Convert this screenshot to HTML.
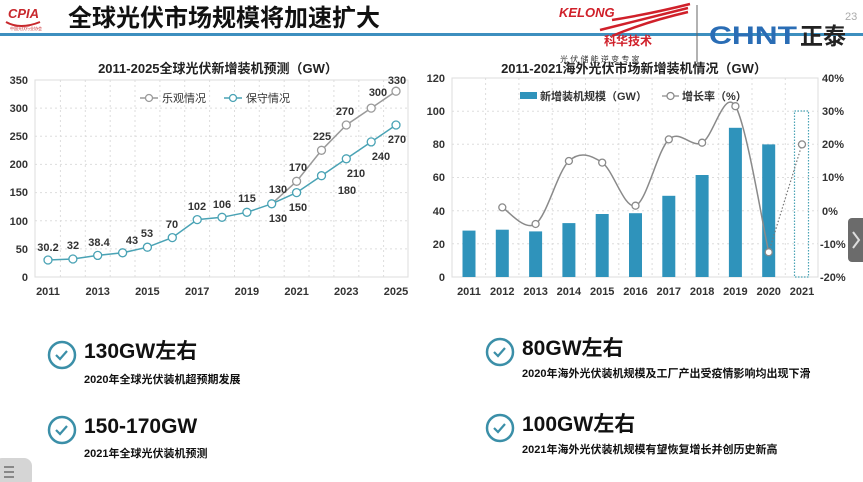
<!DOCTYPE html>
<html><head><meta charset="utf-8"><style>
html,body{margin:0;padding:0;background:#fff;}
svg{display:block;font-family:"Liberation Sans","Noto Sans CJK SC",sans-serif;}
</style></head><body>
<svg width="863" height="482" viewBox="0 0 863 482" xmlns="http://www.w3.org/2000/svg">
<!-- header -->
<rect x="0" y="33" width="863" height="3" fill="#3d8fbf"/>
<text x="8" y="18" font-size="13" font-weight="bold" fill="#c8282d" font-style="italic">CPIA</text>
<path d="M6 22 Q20 30 40 22" stroke="#c8282d" stroke-width="2" fill="none"/>
<text x="10" y="30" font-size="4" fill="#c8282d">中国光伏行业协会</text>
<text x="68" y="26" font-size="24" font-weight="bold" fill="#111">全球光伏市场规模将加速扩大</text>
<text x="559" y="17" font-size="13" font-weight="bold" font-style="italic" fill="#d0202a">KELONG</text>
<path d="M612 20 Q650 14 690 4 M600 30 Q640 20 688 8 M612 36 Q645 22 688 12" stroke="#d0202a" stroke-width="2.5" fill="none"/>
<text x="604" y="45" font-size="12" font-weight="bold" fill="#d0202a">科华技术</text>
<text x="560" y="62" font-size="8" fill="#333">光 伏 储 能 逆 变 专 家</text>
<line x1="697" y1="5" x2="697" y2="62" stroke="#666" stroke-width="1"/>
<text x="709" y="44" font-size="25" font-weight="bold" fill="#2a6db5" textLength="88" lengthAdjust="spacingAndGlyphs">CHNT</text>
<text x="800" y="44" font-size="23" font-weight="bold" fill="#222">正泰</text>
<text x="845" y="20" font-size="11" fill="#aaa">23</text>

<!-- LEFT CHART -->
<text x="218" y="73" font-size="13" font-weight="bold" fill="#222" text-anchor="middle">2011-2025全球光伏新增装机预测（GW）</text>
<rect x="35" y="80" width="373" height="197" fill="none" stroke="#ddd"/>
<g stroke="#ddd" stroke-dasharray="2,3">
<line x1="35" y1="108.1" x2="408" y2="108.1"/><line x1="35" y1="136.2" x2="408" y2="136.2"/><line x1="35" y1="164.4" x2="408" y2="164.4"/><line x1="35" y1="192.6" x2="408" y2="192.6"/><line x1="35" y1="220.7" x2="408" y2="220.7"/><line x1="35" y1="248.9" x2="408" y2="248.9"/>
<line x1="60.4" y1="80" x2="60.4" y2="277"/><line x1="85.3" y1="80" x2="85.3" y2="277"/><line x1="110.2" y1="80" x2="110.2" y2="277"/><line x1="135" y1="80" x2="135" y2="277"/><line x1="159.9" y1="80" x2="159.9" y2="277"/><line x1="184.7" y1="80" x2="184.7" y2="277"/><line x1="209.6" y1="80" x2="209.6" y2="277"/><line x1="234.5" y1="80" x2="234.5" y2="277"/><line x1="259.3" y1="80" x2="259.3" y2="277"/><line x1="284.2" y1="80" x2="284.2" y2="277"/><line x1="309" y1="80" x2="309" y2="277"/><line x1="333.9" y1="80" x2="333.9" y2="277"/><line x1="358.8" y1="80" x2="358.8" y2="277"/><line x1="383.6" y1="80" x2="383.6" y2="277"/>
</g>
<g font-size="11" font-weight="bold" fill="#333" text-anchor="end">
<text x="28" y="84">350</text><text x="28" y="112">300</text><text x="28" y="140">250</text><text x="28" y="168">200</text><text x="28" y="196">150</text><text x="28" y="225">100</text><text x="28" y="253">50</text><text x="28" y="281">0</text>
</g>
<g font-size="11" font-weight="bold" fill="#333" text-anchor="middle">
<text x="48" y="295">2011</text><text x="97.7" y="295">2013</text><text x="147.4" y="295">2015</text><text x="197.2" y="295">2017</text><text x="246.9" y="295">2019</text><text x="296.6" y="295">2021</text><text x="346.3" y="295">2023</text><text x="396" y="295">2025</text>
</g>
<polyline points="271.7,203.8 296.6,181.3 321.5,150.3 346.3,125 371.2,108.1 396,91.2" fill="none" stroke="#9a9a9a" stroke-width="1.5"/>
<g fill="#fff" stroke="#9a9a9a" stroke-width="1.3">
<circle cx="296.6" cy="181.3" r="4"/><circle cx="321.5" cy="150.3" r="4"/><circle cx="346.3" cy="125" r="4"/><circle cx="371.2" cy="108.1" r="4"/><circle cx="396" cy="91.2" r="4"/>
</g>
<polyline points="48,260 72.9,259 97.7,255.4 122.6,252.8 147.4,247.2 172.3,237.6 197.2,219.6 222,217.3 246.9,212.3 271.7,203.8 296.6,192.6 321.5,175.7 346.3,158.8 371.2,141.9 396,125" fill="none" stroke="#4aa3b5" stroke-width="1.5"/>
<g fill="#fff" stroke="#4aa3b5" stroke-width="1.3">
<circle cx="48" cy="260" r="4"/><circle cx="72.9" cy="259" r="4"/><circle cx="97.7" cy="255.4" r="4"/><circle cx="122.6" cy="252.8" r="4"/><circle cx="147.4" cy="247.2" r="4"/><circle cx="172.3" cy="237.6" r="4"/><circle cx="197.2" cy="219.6" r="4"/><circle cx="222" cy="217.3" r="4"/><circle cx="246.9" cy="212.3" r="4"/><circle cx="271.7" cy="203.8" r="4"/><circle cx="296.6" cy="192.6" r="4"/><circle cx="321.5" cy="175.7" r="4"/><circle cx="346.3" cy="158.8" r="4"/><circle cx="371.2" cy="141.9" r="4"/><circle cx="396" cy="125" r="4"/>
</g>
<g font-size="11" font-weight="bold" fill="#333" text-anchor="middle">
<text x="48" y="251">30.2</text><text x="73" y="249">32</text><text x="99" y="246">38.4</text><text x="132" y="244">43</text><text x="147" y="237">53</text><text x="172" y="228">70</text><text x="197" y="210">102</text><text x="222" y="208">106</text><text x="247" y="202">115</text><text x="278" y="193">130</text><text x="278" y="222">130</text><text x="298" y="171">170</text><text x="298" y="211">150</text><text x="322" y="140">225</text><text x="347" y="194">180</text><text x="345" y="115">270</text><text x="356" y="177">210</text><text x="378" y="96">300</text><text x="381" y="160">240</text><text x="397" y="84">330</text><text x="397" y="143">270</text>
</g>
<line x1="140" y1="98" x2="158" y2="98" stroke="#9a9a9a" stroke-width="1.5"/><circle cx="149" cy="98" r="3.5" fill="#fff" stroke="#9a9a9a" stroke-width="1.3"/>
<text x="162" y="102" font-size="11" fill="#333">乐观情况</text>
<line x1="224" y1="98" x2="242" y2="98" stroke="#4aa3b5" stroke-width="1.5"/><circle cx="233" cy="98" r="3.5" fill="#fff" stroke="#4aa3b5" stroke-width="1.3"/>
<text x="246" y="102" font-size="11" fill="#333">保守情况</text>

<!-- RIGHT CHART -->
<text x="634" y="73" font-size="13" font-weight="bold" fill="#222" text-anchor="middle">2011-2021海外光伏市场新增装机情况（GW）</text>
<rect x="452" y="78" width="366" height="199" fill="none" stroke="#ddd"/>
<g stroke="#ddd" stroke-dasharray="2,3">
<line x1="452" y1="111.2" x2="818" y2="111.2"/><line x1="452" y1="144.3" x2="818" y2="144.3"/><line x1="452" y1="177.5" x2="818" y2="177.5"/><line x1="452" y1="210.7" x2="818" y2="210.7"/><line x1="452" y1="243.8" x2="818" y2="243.8"/>
<line x1="485.6" y1="78" x2="485.6" y2="277"/><line x1="518.9" y1="78" x2="518.9" y2="277"/><line x1="552.2" y1="78" x2="552.2" y2="277"/><line x1="585.5" y1="78" x2="585.5" y2="277"/><line x1="618.8" y1="78" x2="618.8" y2="277"/><line x1="652.1" y1="78" x2="652.1" y2="277"/><line x1="685.4" y1="78" x2="685.4" y2="277"/><line x1="718.7" y1="78" x2="718.7" y2="277"/><line x1="752" y1="78" x2="752" y2="277"/><line x1="785.3" y1="78" x2="785.3" y2="277"/>
</g>
<g font-size="11" font-weight="bold" fill="#333" text-anchor="end">
<text x="445" y="82">120</text><text x="445" y="115">100</text><text x="445" y="148">80</text><text x="445" y="181">60</text><text x="445" y="215">40</text><text x="445" y="248">20</text><text x="445" y="281">0</text>
</g>
<g font-size="11" font-weight="bold" fill="#333">
<text x="822" y="82">40%</text><text x="822" y="115">30%</text><text x="822" y="148">20%</text><text x="822" y="181">10%</text><text x="822" y="215">0%</text><text x="820" y="248">-10%</text><text x="820" y="281">-20%</text>
</g>
<g font-size="11" font-weight="bold" fill="#333" text-anchor="middle">
<text x="469" y="295">2011</text><text x="502.3" y="295">2012</text><text x="535.6" y="295">2013</text><text x="568.9" y="295">2014</text><text x="602.2" y="295">2015</text><text x="635.5" y="295">2016</text><text x="668.8" y="295">2017</text><text x="702.1" y="295">2018</text><text x="735.4" y="295">2019</text><text x="768.7" y="295">2020</text><text x="802" y="295">2021</text>
</g>
<g fill="#2f93bb">
<rect x="462.5" y="230.6" width="13" height="46.4"/><rect x="495.8" y="229.7" width="13" height="47.3"/><rect x="529.1" y="231.4" width="13" height="45.6"/><rect x="562.4" y="223.1" width="13" height="53.9"/><rect x="595.7" y="214" width="13" height="63"/><rect x="629" y="213.2" width="13" height="63.8"/><rect x="662.3" y="195.8" width="13" height="81.2"/><rect x="695.6" y="175" width="13" height="102"/><rect x="728.9" y="127.8" width="13" height="149.2"/><rect x="762.2" y="144.4" width="13" height="132.6"/>
</g>
<rect x="794.5" y="111" width="14" height="166" fill="none" stroke="#4aa3b5" stroke-width="1.2" stroke-dasharray="1.5,1.5"/>
<path d="M502.3,207.4 C507.9,210.2 524.5,231.7 535.6,224 C546.7,216.3 557.8,171.2 568.9,161 C580,150.8 591.1,155.1 602.2,162.6 C613.3,170.05 624.4,209.6 635.5,205.7 C646.6,201.8 657.7,149.9 668.8,139.4 C679.9,128.9 691,148.2 702.1,142.7 C713.2,137.2 724.3,88 735.4,106.2 C746.5,124.45 763.2,227.9 768.7,252.2" fill="none" stroke="#8a8a8a" stroke-width="1.5"/>
<line x1="768.7" y1="252.2" x2="802" y2="144.4" stroke="#777" stroke-width="1.2" stroke-dasharray="1.5,2"/>
<g fill="#fff" stroke="#8a8a8a" stroke-width="1.3">
<circle cx="502.3" cy="207.4" r="3.5"/><circle cx="535.6" cy="224" r="3.5"/><circle cx="568.9" cy="161" r="3.5"/><circle cx="602.2" cy="162.6" r="3.5"/><circle cx="635.5" cy="205.7" r="3.5"/><circle cx="668.8" cy="139.4" r="3.5"/><circle cx="702.1" cy="142.7" r="3.5"/><circle cx="735.4" cy="106.2" r="3.5"/><circle cx="768.7" cy="252.2" r="3.5"/><circle cx="802" cy="144.4" r="3.5"/>
</g>
<rect x="520" y="92" width="17" height="7" fill="#2f93bb"/>
<text x="540" y="100" font-size="11" font-weight="bold" fill="#333">新增装机规模（GW）</text>
<line x1="662" y1="96" x2="679" y2="96" stroke="#8a8a8a" stroke-width="1.3"/><circle cx="670.5" cy="96" r="3.5" fill="#fff" stroke="#8a8a8a" stroke-width="1.3"/>
<text x="682" y="100" font-size="11" font-weight="bold" fill="#333">增长率（%）</text>

<!-- right tab -->
<rect x="848" y="218" width="20" height="44" rx="4" fill="#6b6b6b"/>
<path d="M853 232 L859 240 L853 248" stroke="#ddd" stroke-width="2" fill="none"/>

<!-- bottom items -->
<g fill="none" stroke="#3b8fa8" stroke-width="2.5">
<circle cx="62" cy="355" r="13"/><circle cx="62" cy="430" r="13"/><circle cx="500" cy="352" r="13"/><circle cx="500" cy="428" r="13"/>
</g>
<g fill="none" stroke="#3b8fa8" stroke-width="2.2">
<path d="M56 355 L60 359 L67 351"/><path d="M56 430 L60 434 L67 426"/><path d="M494 352 L498 356 L505 348"/><path d="M494 428 L498 432 L505 424"/>
</g>
<g font-weight="bold" fill="#111">
<text x="84" y="358" font-size="21">130GW左右</text>
<text x="84" y="383" font-size="11">2020年全球光伏装机超预期发展</text>
<text x="84" y="433" font-size="21">150-170GW</text>
<text x="84" y="457" font-size="11">2021年全球光伏装机预测</text>
<text x="522" y="355" font-size="21">80GW左右</text>
<text x="522" y="377" font-size="11">2020年海外光伏装机规模及工厂产出受疫情影响均出现下滑</text>
<text x="522" y="431" font-size="21">100GW左右</text>
<text x="522" y="453" font-size="11">2021年海外光伏装机规模有望恢复增长并创历史新高</text>
</g>
<rect x="-6" y="458" width="38" height="30" rx="8" fill="#d5d5d5"/>
<g fill="#888"><rect x="4" y="466" width="10" height="2"/><rect x="4" y="471" width="10" height="2"/><rect x="4" y="476" width="10" height="2"/></g>
</svg>
</body></html>
